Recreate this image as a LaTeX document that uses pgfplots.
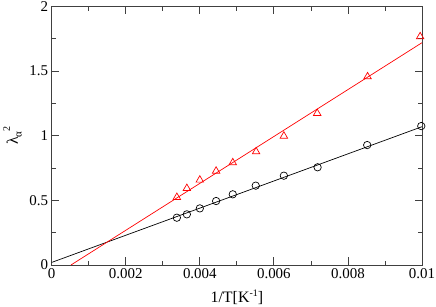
\documentclass[border=0pt]{standalone}
\usepackage{pgfplots}
\pgfplotsset{compat=1.18}
\usepackage{fontspec}
\setmainfont{Liberation Serif}
\begin{document}
\begin{tikzpicture}
\begin{axis}[
  scale only axis, width=370.3bp, height=258.5bp,
  xmin=0, xmax=0.01, ymin=0, ymax=2,
  /pgf/number format/assume math mode=true,
  xtick={0,0.002,0.004,0.006,0.008,0.01},
  xticklabels={0,0.002,0.004,0.006,0.008,0.01},
  minor xtick={0.001,0.003,0.005,0.007,0.009},
  ytick={0,0.5,1,1.5,2}, yticklabels={0,0.5,1,1.5,2},
  minor ytick={0.25,0.75,1.25,1.75},
  tick align=inside, major tick length=7.5bp, minor tick length=4bp,
  tick style={line width=0.8pt, color=black!75},
  axis line style={line width=0.9pt, black!75},
  ticklabel style={font=\rmfamily\fontsize{15}{18}\selectfont},
  scaled x ticks=false,
  xlabel={1/T[K\raisebox{0.9ex}{\fontsize{10}{12}\selectfont -1}]},
  ylabel={λ\raisebox{-0.5ex}{\fontsize{11}{12}\selectfont α}\raisebox{1.1ex}{\fontsize{10}{12}\selectfont 2}},
  xlabel style={font=\fontsize{16}{19}\selectfont, at={(axis description cs:0.5,-0.125)}, anchor=center},
  ylabel style={font=\fontsize{16}{19}\selectfont, at={(axis description cs:-0.106,0.5)}, anchor=center},
  clip=false,
]
\coordinate (sw) at (rel axis cs:0,0);
\coordinate (ne) at (rel axis cs:1,1);
\addplot[black, line width=0.7pt, no marks] coordinates {(0,0.02) (0.01,1.07)};
\addplot[red, line width=0.7pt, no marks] coordinates {(0.00052,0) (0.01,1.72)};
\addplot[only marks, mark=o, mark size=3.7bp, black, mark options={line width=0.7pt}] coordinates {
(0.00338,0.366) (0.00365,0.392) (0.0040,0.438) (0.00444,0.495) (0.00489,0.547)
(0.00551,0.614) (0.00627,0.691) (0.00718,0.756) (0.00852,0.928) (0.00998,1.075)};
\addplot[only marks, mark=triangle, mark size=4.3bp, red, mark options={line width=0.7pt}] coordinates {
(0.00338,0.524) (0.00365,0.593) (0.0040,0.658) (0.00444,0.727) (0.00489,0.792)
(0.00552,0.877) (0.00627,0.998) (0.00717,1.174) (0.00853,1.457) (0.00995,1.767)};
\end{axis}
\pgfresetboundingbox
\path[use as bounding box] ([shift={(-51.7bp,-42bp)}]sw) rectangle ([shift={(14bp,6.5bp)}]ne);
\end{tikzpicture}
\end{document}
